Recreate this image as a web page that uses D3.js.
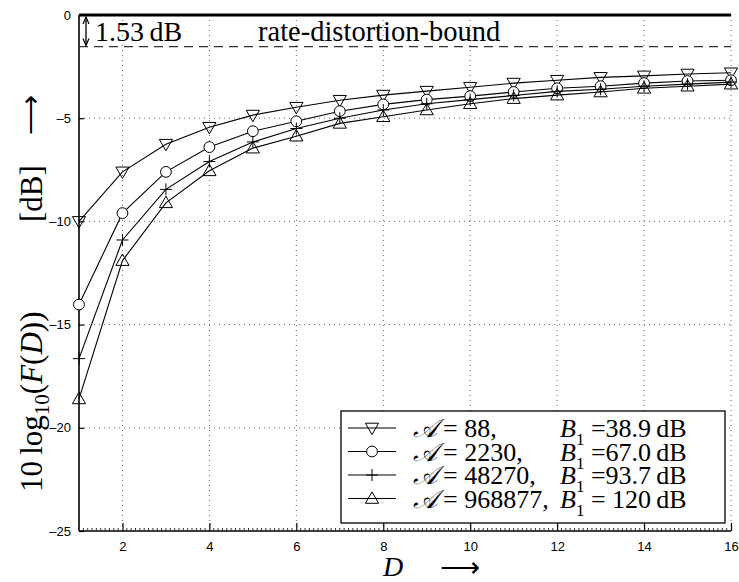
<!DOCTYPE html>
<html>
<head>
<meta charset="utf-8">
<script src="https://cdn.jsdelivr.net/npm/d3@7"></script>
<style>
  body { margin: 0; background: #fff; }
  svg { display: block; }
  .tick text { font-family: "Liberation Sans", Arial, sans-serif; font-size: 13px; }
  .serif { font-family: "Liberation Serif", "Times New Roman", serif; }
</style>
</head>
<body>
<svg id="chart" width="739" height="582"></svg>
<script>
// chart data
const dValues = [1, 2, 3, 4, 5, 6, 7, 8, 9, 10, 11, 12, 13, 14, 15, 16];
const seriesA88 = [-10.0, -7.6, -6.26, -5.44, -4.85, -4.47, -4.13, -3.88, -3.69, -3.5, -3.3, -3.16, -3.02, -2.95, -2.86, -2.8];
const seriesA2230 = [-14.03, -9.6, -7.6, -6.4, -5.63, -5.15, -4.66, -4.33, -4.1, -3.93, -3.73, -3.55, -3.45, -3.3, -3.2, -3.16];
const seriesA48270 = [-16.65, -10.9, -8.45, -7.1, -6.15, -5.5, -5.0, -4.6, -4.3, -4.1, -3.9, -3.7, -3.6, -3.45, -3.35, -3.25];
const seriesA968877 = [-18.6, -11.9, -9.1, -7.55, -6.45, -5.87, -5.25, -4.93, -4.6, -4.3, -4.05, -3.88, -3.73, -3.55, -3.45, -3.35];
const legendA = ["88,", "2230,", "48270,", "968877,"];
const legendB = ["=38.9\u2009dB", "=67.0\u2009dB", "=93.7\u2009dB", "= 120\u2009dB"];
const markerTypes = ["triDown", "circle", "plus", "triUp"];
const xTicks = [2, 4, 6, 8, 10, 12, 14, 16];
const yTicks = [0, -5, -10, -15, -20, -25];
const boundGap = -1.53;

const series = [seriesA88, seriesA2230, seriesA48270, seriesA968877];

const svg = d3.select("#chart");
const margin = { left: 79, right: 8, top: 15, bottom: 51 };
const width = 739 - margin.left - margin.right;
const height = 582 - margin.top - margin.bottom;

const g = svg.append("g").attr("transform", `translate(${margin.left},${margin.top})`);

const x = d3.scaleLinear().domain([1, 16]).range([0, width]);
const y = d3.scaleLinear().domain([-25, 0]).range([height, 0]);

// dotted grid
g.append("g").selectAll("line").data(xTicks).enter().append("line")
  .attr("x1", d => x(d)).attr("x2", d => x(d))
  .attr("y1", 0).attr("y2", height)
  .attr("stroke", "#666").attr("stroke-width", 1).attr("stroke-dasharray", "1,4");
g.append("g").selectAll("line").data(yTicks.filter(d => d > -25 && d < 0)).enter().append("line")
  .attr("x1", 0).attr("x2", width)
  .attr("y1", d => y(d)).attr("y2", d => y(d))
  .attr("stroke", "#666").attr("stroke-width", 1).attr("stroke-dasharray", "1,4");

// axes
const xAxis = g.append("g").attr("transform", `translate(0,${height})`)
  .call(d3.axisBottom(x).tickValues(xTicks).tickSize(-8).tickPadding(11).tickFormat(d3.format("d")));
const yAxis = g.append("g")
  .call(d3.axisLeft(y).tickValues(yTicks).tickSize(-5).tickPadding(8)
    .tickFormat(d => d === 0 ? "0" : "\u2013" + Math.abs(d)));
[xAxis, yAxis].forEach(a => {
  a.select(".domain").attr("stroke", "#000").attr("stroke-width", 1.6);
  a.selectAll(".tick line").attr("stroke", "#000").attr("stroke-width", 1.2);
  a.selectAll(".tick text").attr("fill", "#000");
});
xAxis.select(".domain").attr("d", `M0,0H${width}`);
yAxis.select(".domain").attr("d", `M0,0V${height}`);

// minor ticks on bottom axis
const minor = d3.range(1, 16.001, 0.1).filter(v => Math.abs(v - Math.round(v / 2) * 2) > 0.01);
g.append("g").selectAll("line").data(minor).enter().append("line")
  .attr("x1", d => x(d)).attr("x2", d => x(d))
  .attr("y1", height).attr("y2", height - 3)
  .attr("stroke", "#333").attr("stroke-width", 1);

// rate-distortion bound and 1.53 dB gap
g.append("line").attr("x1", 0).attr("x2", width).attr("y1", y(0)).attr("y2", y(0))
  .attr("stroke", "#000").attr("stroke-width", 3);
g.append("line").attr("x1", 0).attr("x2", width).attr("y1", y(boundGap)).attr("y2", y(boundGap))
  .attr("stroke", "#333").attr("stroke-width", 1.2).attr("stroke-dasharray", "9,6");

// double arrow
const ax = 7;
g.append("line").attr("x1", ax).attr("x2", ax).attr("y1", y(0) + 2).attr("y2", y(boundGap) - 1)
  .attr("stroke", "#000").attr("stroke-width", 1.3);
g.append("path").attr("d", `M${ax - 3},${y(0) + 9}L${ax},${y(0) + 2}L${ax + 3},${y(0) + 9}`)
  .attr("fill", "none").attr("stroke", "#000").attr("stroke-width", 1.2);
g.append("path").attr("d", `M${ax - 3},${y(boundGap) - 8}L${ax},${y(boundGap) - 1}L${ax + 3},${y(boundGap) - 8}`)
  .attr("fill", "none").attr("stroke", "#000").attr("stroke-width", 1.2);

g.append("text").attr("class", "serif").attr("x", 16).attr("y", 26)
  .attr("font-size", 28).text("1.53\u2009dB");
g.append("text").attr("class", "serif").attr("x", 179).attr("y", 26)
  .attr("font-size", 28.5).text("rate-distortion-bound");

// marker drawing
function drawMarker(sel, type, size) {
  const s = size;
  if (type === "circle") {
    sel.append("circle").attr("r", s * 0.45).attr("fill", "#fff").attr("stroke", "#000").attr("stroke-width", 1);
  } else if (type === "triDown") {
    sel.append("path").attr("d", `M${-s * 0.55},${-s * 0.4}L${s * 0.55},${-s * 0.4}L0,${s * 0.55}Z`)
      .attr("fill", "none").attr("stroke", "#000").attr("stroke-width", 1);
  } else if (type === "triUp") {
    sel.append("path").attr("d", `M${-s * 0.55},${s * 0.4}L${s * 0.55},${s * 0.4}L0,${-s * 0.55}Z`)
      .attr("fill", "none").attr("stroke", "#000").attr("stroke-width", 1);
  } else if (type === "plus") {
    sel.append("path").attr("d", `M${-s * 0.5},0H${s * 0.5}M0,${-s * 0.5}V${s * 0.5}`)
      .attr("stroke", "#000").attr("stroke-width", 1);
  }
}

const line = d3.line().x(d => x(d[0])).y(d => y(d[1]));

series.forEach((vals, i) => {
  const pts = dValues.map((d, j) => [d, vals[j]]);
  g.append("path").datum(pts).attr("d", line)
    .attr("fill", "none").attr("stroke", "#000").attr("stroke-width", 1.1);
  g.append("g").selectAll("g").data(pts).enter().append("g")
    .attr("transform", d => `translate(${x(d[0])},${y(d[1])})`)
    .each(function () { drawMarker(d3.select(this), markerTypes[i], 12); });
});

// legend
const lg = svg.append("g").attr("transform", "translate(341,411)");
lg.append("rect").attr("width", 384).attr("height", 112)
  .attr("fill", "#fff").attr("stroke", "#000").attr("stroke-width", 1.3);
legendA.forEach((a, i) => {
  const ry = 17 + i * 23.5;
  const row = lg.append("g").attr("transform", `translate(0,${ry})`);
  row.append("line").attr("x1", 7).attr("x2", 55).attr("y1", 0).attr("y2", 0)
    .attr("stroke", "#000").attr("stroke-width", 1.1);
  const m = row.append("g").attr("transform", "translate(31,0)");
  drawMarker(m, markerTypes[i], 12);
  const t = row.append("text").attr("class", "serif").attr("x", 72).attr("y", 9).attr("font-size", 26);
  t.append("tspan").attr("font-style", "italic").text("\uD835\uDC9C");
  t.append("tspan").attr("dx", 5).text("= " + a);
  const tb = row.append("text").attr("class", "serif").attr("x", 219).attr("y", 9).attr("font-size", 26);
  tb.append("tspan").attr("font-style", "italic").text("B");
  tb.append("tspan").attr("font-size", 17).attr("dy", 8).text("1");
  tb.append("tspan").attr("dy", -8).text(" " + legendB[i]);
});

// axis labels
svg.append("text").attr("class", "serif").attr("x", 393).attr("y", 576)
  .attr("font-size", 28).attr("font-style", "italic").attr("text-anchor", "middle").text("D");
svg.append("text").attr("class", "serif").attr("x", 440).attr("y", 577)
  .attr("font-size", 28).text("\u27F6");

const yl = svg.append("g").attr("transform", "translate(42,0) rotate(-90)");
const yt = yl.append("text").attr("class", "serif").attr("x", -492).attr("y", 0).attr("font-size", 31);
yt.append("tspan").text("10\u2009log");
yt.append("tspan").attr("font-size", 21).attr("dy", 7).text("10");
yt.append("tspan").attr("dy", -7).text("(");
yt.append("tspan").attr("font-style", "italic").text("F");
yt.append("tspan").text("(");
yt.append("tspan").attr("font-style", "italic").text("D");
yt.append("tspan").text("))");
yl.append("text").attr("class", "serif").attr("x", -222).attr("y", 0).attr("font-size", 31).text("[dB]");
yl.append("text").attr("class", "serif").attr("x", -135).attr("y", -2).attr("font-size", 28).text("\u27F6");
</script>
</body>
</html>
